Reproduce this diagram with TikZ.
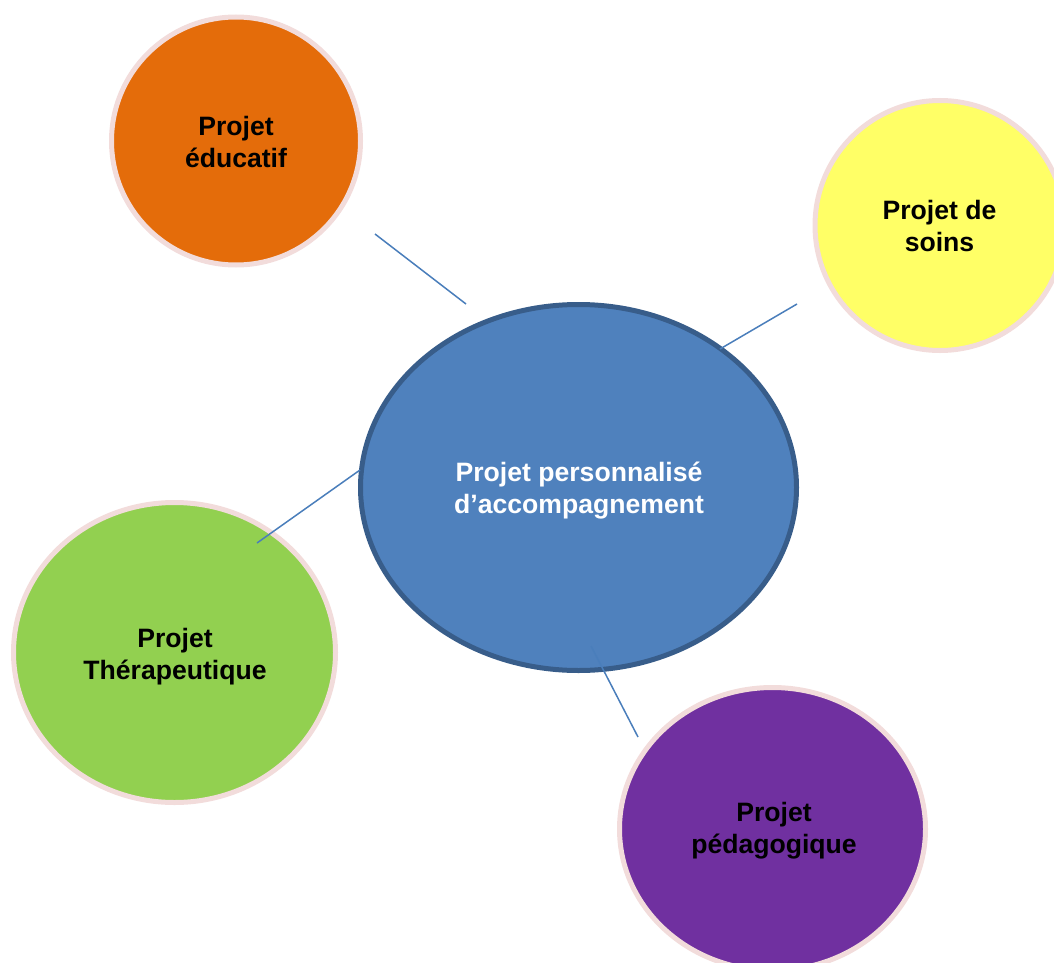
\documentclass[tikz,border=0pt]{standalone}
\usepackage{fontspec}
\setmainfont{Liberation Sans}
\usetikzlibrary{shapes.geometric}
\definecolor{corange}{HTML}{E46C0A}
\definecolor{cyellow}{HTML}{FFFF66}
\definecolor{cgreen}{HTML}{92D050}
\definecolor{cpurple}{HTML}{7030A0}
\definecolor{cblue}{HTML}{4F81BD}
\definecolor{cblueborder}{HTML}{385D8A}
\definecolor{cpink}{HTML}{F2DCDB}
\definecolor{clink}{HTML}{4A7EBB}
\tikzset{
  bubble/.style={ellipse, draw=cpink, line width=5pt, inner sep=0pt},
  centre/.style={ellipse, draw=cblueborder, fill=cblue, line width=5pt, inner sep=0pt},
  label/.style={align=center, inner sep=0pt, font=\bfseries\fontsize{26.6}{32}\selectfont},
  link/.style={draw=clink, line width=1.5pt}
}
\begin{document}
\begin{tikzpicture}[x=1pt,y=-1pt]
\useasboundingbox (0,0) rectangle (1054,963);
\clip (0,0) rectangle (1054,963);
% circles
\node[bubble, fill=corange, minimum width=249pt, minimum height=248pt] (edu) at (236,141) {};
\node[bubble, fill=cyellow, minimum width=250pt, minimum height=250pt] (soins) at (940,225.5) {};
\node[bubble, fill=cgreen, minimum width=322pt, minimum height=300pt] (thera) at (174.5,652.5) {};
\node[bubble, fill=cpurple, minimum width=306pt, minimum height=283pt] (peda) at (772.5,829) {};
\node[centre, minimum width=436pt, minimum height=366pt] (ppa) at (578.5,487.5) {};
% texts
\node[label] (tedu) at (236,142) {Projet\\éducatif};
\node[label] (tsoins) at (939.5,225.5) {Projet de\\soins};
\node[label, text=white] (tppa) at (579,491) {Projet personnalisé\\d’accompagnement};
\node[label] (tthera) at (175,657) {Projet\\Thérapeutique};
\node[label] (tpeda) at (774,831) {Projet\\pédagogique};
% connector end points
\coordinate (a1) at (375,234);
\coordinate (a2) at (466,304);
\coordinate (b1) at (720,349);
\coordinate (b2) at (797,304);
\coordinate (c1) at (257,543);
\coordinate (c2) at (360,470);
\coordinate (d1) at (591,646);
\coordinate (d2) at (638,737);
\draw[link] (a1) -- (a2);
\draw[link] (b1) -- (b2);
\draw[link] (c1) -- (c2);
\draw[link] (d1) -- (d2);
\end{tikzpicture}
\end{document}
